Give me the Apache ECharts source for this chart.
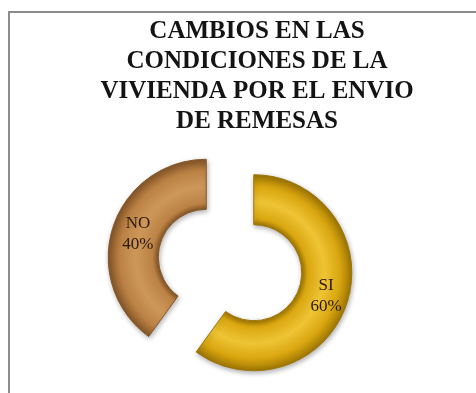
<!DOCTYPE html>
<html>
<head>
<meta charset="utf-8">
<script src="https://cdn.jsdelivr.net/npm/echarts@6/dist/echarts.min.js"></script>
<style>
html,body{margin:0;padding:0;background:#fff;}
#chart{width:476px;height:393px;}
</style>
</head>
<body>
<div id="chart"></div>
<script>
var titleText = "CAMBIOS EN LAS\nCONDICIONES DE LA\nVIVIENDA POR EL ENVIO\nDE REMESAS";
var categories = ["SI", "NO"];
var values = [60, 40];
var colors = ["#D9A60F", "#BC8245"];
var lightColors = ["#EEC435", "#CE975A"];
var darkColors = ["#9E7604", "#855627"];
var labelPaddings = [[6, 0, 0, 0], [8, 0, 0, 8]];

var CX = 230, CY = 265, R_IN = 48, R_OUT = 98;

function bevel(i) {
  return new echarts.graphic.RadialGradient(CX, CY, R_OUT, [
    {offset: R_IN / R_OUT, color: darkColors[i]},
    {offset: (R_IN + 6) / R_OUT, color: colors[i]},
    {offset: 0.72, color: lightColors[i]},
    {offset: 0.88, color: colors[i]},
    {offset: 1, color: darkColors[i]}
  ], true);
}

var chart = echarts.init(document.getElementById('chart'), null, {renderer: 'canvas'});
var data = categories.map(function (c, i) {
  return {
    name: c,
    value: values[i],
    selected: true,
    itemStyle: {color: bevel(i), borderColor: darkColors[i]},
    label: {padding: labelPaddings[i]}
  };
});
chart.setOption({
  animation: false,
  backgroundColor: '#ffffff',
  title: {
    text: titleText,
    left: 257,
    textAlign: 'center',
    top: 17,
    padding: 0,
    textStyle: {
      fontFamily: 'Liberation Serif',
      fontWeight: 'bold',
      fontSize: 25,
      lineHeight: 30,
      color: '#141414'
    }
  },
  graphic: [{
    type: 'rect',
    silent: true,
    shape: {x: 9, y: 12, width: 520, height: 420},
    style: {fill: 'none', stroke: '#8c8c8c', lineWidth: 2}
  }],
  series: [{
    type: 'pie',
    center: [CX, CY],
    radius: [R_IN, R_OUT],
    startAngle: 90,
    clockwise: true,
    selectedMode: 'multiple',
    selectedOffset: 25,
    silent: true,
    itemStyle: {
      borderWidth: 1,
      shadowBlur: 5,
      shadowColor: 'rgba(0,0,0,0.3)',
      shadowOffsetX: 1,
      shadowOffsetY: 2
    },
    label: {
      show: true,
      position: 'inside',
      formatter: function (p) { return p.name + '\n' + Math.round(p.percent) + '%'; },
      fontFamily: 'Liberation Serif',
      fontSize: 17,
      lineHeight: 21,
      color: '#2b1a0a'
    },
    labelLine: {show: false},
    emphasis: {disabled: true},
    data: data
  }]
});
</script>
</body>
</html>
